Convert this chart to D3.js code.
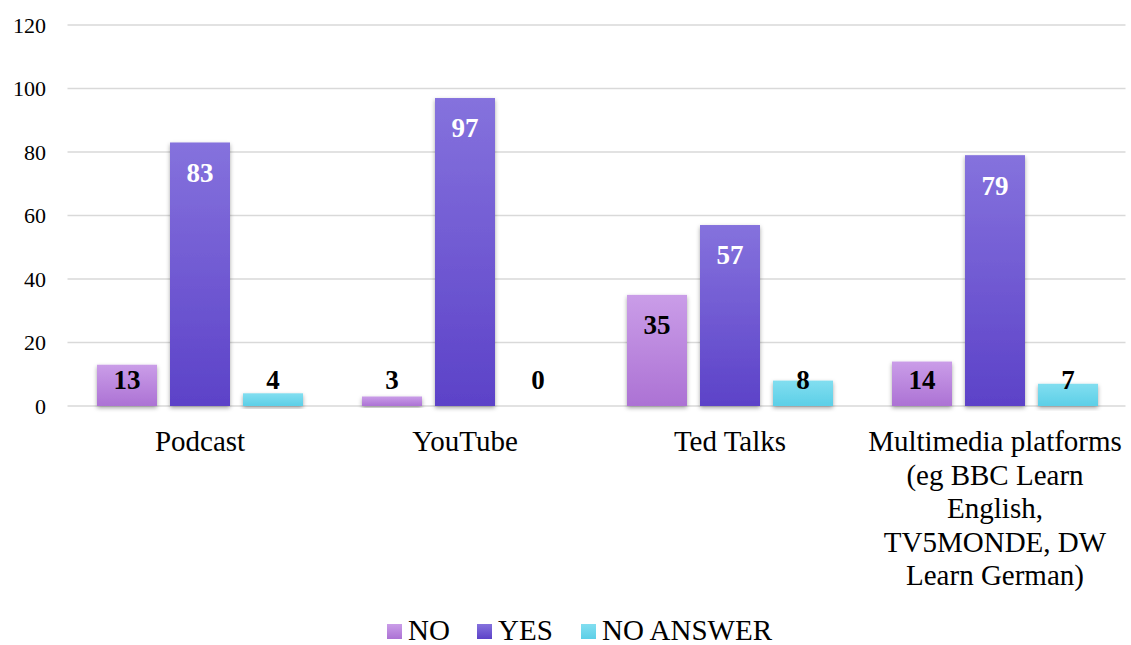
<!DOCTYPE html>
<html><head><meta charset="utf-8">
<script src="https://cdn.jsdelivr.net/npm/d3@7"></script>
<style>body{margin:0;background:#fff}svg{display:block;font-family:"Liberation Serif","Times New Roman",serif}</style>
</head><body><svg id="c" width="1131" height="645"></svg>
<script>
const categories = ["Podcast","YouTube","Ted Talks","Multimedia platforms (eg BBC Learn English, TV5MONDE, DW Learn German)"];
const categoryLines = [["Podcast"],["YouTube"],["Ted Talks"],["Multimedia platforms","(eg BBC Learn","English,","TV5MONDE, DW","Learn German)"]];
const seriesNames = ["NO","YES","NO ANSWER"];
const noValues = [13,3,35,14];
const yesValues = [83,97,57,79];
const noAnswerValues = [4,0,8,7];
const yTicks = [0,20,40,60,80,100,120];

const series = [
  {name:seriesNames[0], values:noValues, top:"#ca9de8", bot:"#ac72d4", label:"#000"},
  {name:seriesNames[1], values:yesValues, top:"#8572dd", bot:"#5c42c8", label:"#fff"},
  {name:seriesNames[2], values:noAnswerValues, top:"#82def0", bot:"#5ccfe7", label:"#000"}
];

const svg = d3.select("#c");
const L=67.5, R=1127.5, T=25, B=406;
const x = d3.scaleBand().domain(categories).range([L,R]).paddingInner(0).paddingOuter(0);
const y = d3.scaleLinear().domain([0,120]).range([B,T]);
const defs = svg.append("defs");
series.forEach((s,i)=>{
  const g = defs.append("linearGradient").attr("id","g"+i).attr("x1",0).attr("x2",0).attr("y1",0).attr("y2",1);
  g.append("stop").attr("offset","0%").attr("stop-color",s.top);
  g.append("stop").attr("offset","100%").attr("stop-color",s.bot);
});
const f = defs.append("filter").attr("id","sh").attr("x","-20%").attr("y","-20%").attr("width","140%").attr("height","140%");
f.append("feDropShadow").attr("dx",0).attr("dy",2).attr("stdDeviation",2).attr("flood-color","#000").attr("flood-opacity",0.35);

svg.append("g").selectAll("line").data(yTicks).join("line")
  .attr("x1",L).attr("x2",R-2).attr("y1",d=>y(d)).attr("y2",d=>y(d))
  .attr("stroke","#d9d9d9").attr("stroke-width",1.5);
svg.append("g").selectAll("text").data(yTicks).join("text")
  .attr("x",46).attr("y",d=>y(d)).attr("dy","0.35em").attr("text-anchor","end")
  .attr("font-size",22).attr("fill","#000").text(d=>d);

const bw = 60, gap = 13;
const off = (x.bandwidth() - (3*bw+2*gap))/2;
const xs = d3.scaleBand().domain(seriesNames).range([off, off+3*bw+2*gap]).paddingInner(gap/(bw+gap));

series.forEach((s,i)=>{
  svg.append("g").selectAll("rect").data(categories).join("rect")
    .attr("x",(c)=>x(c)+xs(s.name)).attr("width",xs.bandwidth())
    .attr("y",(c,j)=>y(s.values[j])).attr("height",(c,j)=>Math.max(0,B-y(s.values[j])))
    .attr("fill","url(#g"+i+")").attr("filter",(c,j)=>s.values[j]>0?"url(#sh)":null);
});
series.forEach((s,i)=>{
  svg.append("g").selectAll("text").data(categories).join("text")
    .attr("x",(c)=>x(c)+xs(s.name)+xs.bandwidth()/2)
    .attr("y",(c,j)=>Math.min(y(s.values[j])+30, B-26))
    .attr("dy","0.35em").attr("text-anchor","middle")
    .attr("font-size",27).attr("font-weight","bold")
    .attr("fill",(c,j)=> (s.label==="#fff" && y(s.values[j])+30 < B-26) ? "#fff" : "#000")
    .text((c,j)=>s.values[j]);
});

categories.forEach((c,i)=>{
  const t = svg.append("text").attr("text-anchor","middle").attr("font-size",29).attr("fill","#000");
  categoryLines[i].forEach((ln,k)=>{
    t.append("tspan").attr("x",x(c)+x.bandwidth()/2).attr("y",441+k*33.5).attr("dy","0.35em").text(ln);
  });
});

const lg = svg.append("g");
const legendX = [387,477,581];
series.forEach((s,i)=>{
  lg.append("rect").attr("x",legendX[i]).attr("y",624).attr("width",15).attr("height",15).attr("fill","url(#g"+i+")");
  lg.append("text").attr("x",legendX[i]+21).attr("y",640).attr("font-size",29).attr("fill","#000").text(s.name);
});
</script></body></html>
